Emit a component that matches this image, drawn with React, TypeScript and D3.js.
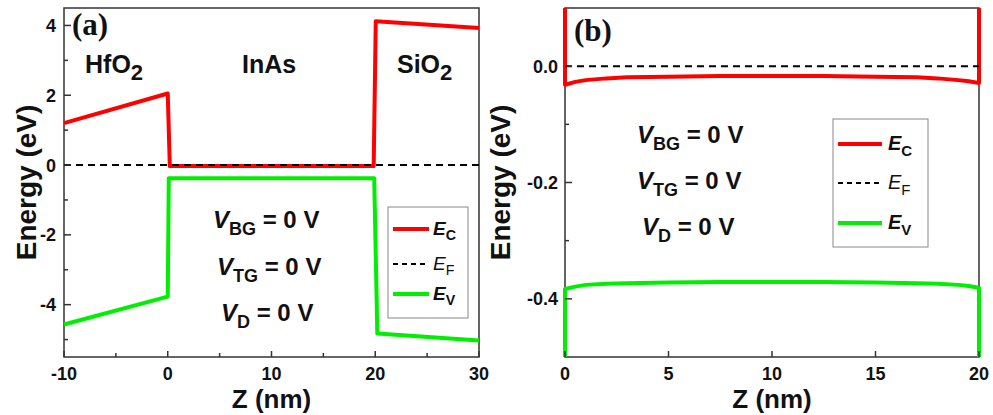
import * as d3 from "d3";

// panel (a): band edges across the HfO2 / InAs / SiO2 stack
const aZ = [-10, 0, 0.2, 19.85, 20.05, 30];
const aEc = [1.2, 2.05, -0.03, -0.03, 4.12, 3.93];
const aZv = [-10, 0, 0.1, 19.9, 20.2, 30];
const aEv = [-4.57, -3.77, -0.38, -0.38, -4.83, -5.03];
const aEf = [0, 0];
const aEfZ = [-10, 30];

// panel (b): zoom into the InAs channel
const bZ = [0, 0, 0.5, 1, 2, 3, 5, 7.5, 10, 12.5, 15, 17, 18, 19, 19.5, 20, 20];
const bEc = [0.15, -0.032, -0.027, -0.024, -0.021, -0.019, -0.018, -0.017, -0.017, -0.017, -0.018, -0.019, -0.021, -0.024, -0.026, -0.029, 0.15];
const bEv = [-0.55, -0.383, -0.379, -0.376, -0.374, -0.373, -0.372, -0.371, -0.371, -0.371, -0.372, -0.373, -0.374, -0.376, -0.378, -0.381, -0.55];
const bEfZ = [0, 20];
const bEf = [0, 0];

const aXTicks = [-10, 0, 10, 20, 30];
const aXMinor = [-5, 5, 15, 25];
const aYTicks = [-4, -2, 0, 2, 4];
const aYMinor = [-5, -3, -1, 1, 3];
const bXTicks = [0, 5, 10, 15, 20];
const bXMinor: number[] = [];
const bYTicks = [-0.4, -0.2, 0.0];
const bYMinor = [-0.3, -0.1];

const FONT = "'Liberation Sans', Arial, Helvetica, sans-serif";
const RED = "#ff0000";
const GREEN = "#00ee00";
const FRAME = "#333";

type Series = { z: number[]; e: number[]; color: string; dashed?: boolean };

interface PanelProps {
  id: string;
  left: number;
  right: number;
  top: number;
  bottom: number;
  xDomain: [number, number];
  yDomain: [number, number];
  xTicks: number[];
  xMinor: number[];
  yTicks: number[];
  yMinor: number[];
  yFormat: (v: number) => string;
  yLabelRight: number;
  yTitleX: number;
  series: Series[];
  tag: string;
  tagX: number;
  tagY: number;
  legend: { x: number; y: number; w: number; h: number; lineX0: number; lineX1: number; rows: number[]; textX: number; fs: number };
  volt: { x: number[]; y: number[]; fs: number };
}

function Sub({ main, sub, italic, fs, bold = true }: { main: string; sub: string; italic?: boolean; fs: number; bold?: boolean }) {
  return (
    <>
      <tspan fontStyle={italic ? "italic" : "normal"} fontWeight={bold ? "bold" : "normal"}>{main}</tspan>
      <tspan fontSize={fs * 0.75} dy={fs * 0.3} fontWeight={bold ? "bold" : "normal"}>{sub}</tspan>
    </>
  );
}

function Panel(p: PanelProps) {
  const x = d3.scaleLinear().domain(p.xDomain).range([p.left, p.right]);
  const y = d3.scaleLinear().domain(p.yDomain).range([p.bottom, p.top]);
  const line = d3
    .line<[number, number]>()
    .x((d) => x(d[0]))
    .y((d) => y(d[1]));

  const volts: [string, string, number][] = [
    ["V", "BG", 0],
    ["V", "TG", 1],
    ["V", "D", 2],
  ];
  const fs = p.volt.fs;
  const lg = p.legend;

  return (
    <g>
      <defs>
        <clipPath id={`clip-${p.id}`}>
          <rect x={p.left - 3} y={p.top} width={p.right - p.left + 6} height={p.bottom - p.top} />
        </clipPath>
      </defs>

      {/* frame */}
      <rect x={p.left} y={p.top} width={p.right - p.left} height={p.bottom - p.top} fill="none" stroke={FRAME} strokeWidth={1.5} />

      <g clipPath={`url(#clip-${p.id})`}>
        {p.series.map((s, i) => (
          <path
            key={i}
            d={line(s.z.map((z, j) => [z, s.e[j]] as [number, number])) || ""}
            fill="none"
            stroke={s.color}
            strokeWidth={s.dashed ? 2 : 4}
            strokeDasharray={s.dashed ? "7,5" : undefined}
            strokeLinejoin="round"
          />
        ))}
      </g>

      {/* ticks (inward) */}
      {p.xTicks.map((t) => (
        <g key={`xt${t}`}>
          <line x1={x(t)} x2={x(t)} y1={p.bottom} y2={p.bottom - 6} stroke={FRAME} strokeWidth={1.5} />
          <text x={x(t)} y={p.bottom + 23} textAnchor="middle" fontFamily={FONT} fontWeight="bold" fontSize={18} fill="#111">
            {t}
          </text>
        </g>
      ))}
      {p.xMinor.map((t) => (
        <line key={`xm${t}`} x1={x(t)} x2={x(t)} y1={p.bottom} y2={p.bottom - 4} stroke={FRAME} strokeWidth={1.5} />
      ))}
      {p.yTicks.map((t) => (
        <g key={`yt${t}`}>
          <line x1={p.left} x2={p.left + 7} y1={y(t)} y2={y(t)} stroke={FRAME} strokeWidth={1.5} />
          <text x={p.yLabelRight} y={y(t) + 6.5} textAnchor="end" fontFamily={FONT} fontWeight="bold" fontSize={18} fill="#111">
            {p.yFormat(t)}
          </text>
        </g>
      ))}
      {p.yMinor.map((t) => (
        <line key={`ym${t}`} x1={p.left} x2={p.left + 4} y1={y(t)} y2={y(t)} stroke={FRAME} strokeWidth={1.5} />
      ))}

      {/* axis titles */}
      <text
        transform={`translate(${p.yTitleX},${(p.top + p.bottom) / 2}) rotate(-90)`}
        textAnchor="middle"
        fontFamily={FONT}
        fontWeight="bold"
        fontSize={28}
        fill="#111"
      >
        Energy (eV)
      </text>
      <text x={(p.left + p.right) / 2} y={408} textAnchor="middle" fontFamily={FONT} fontWeight="bold" fontSize={26} fill="#111">
        Z (nm)
      </text>

      {/* panel tag */}
      <text x={p.tagX} y={p.tagY} fontFamily="'Liberation Serif', 'Times New Roman', serif" fontWeight="bold" fontSize={31} fill="#111">
        {p.tag}
      </text>

      {/* bias annotations */}
      {volts.map(([m, s, i]) => (
        <text key={s} x={p.volt.x[i]} y={p.volt.y[i]} fontFamily={FONT} fontWeight="bold" fontSize={fs} fill="#111">
          <Sub main={m} sub={s} italic fs={fs} />
          <tspan dy={-fs * 0.3}>{" = 0 V"}</tspan>
        </text>
      ))}

      {/* legend */}
      <rect x={lg.x} y={lg.y} width={lg.w} height={lg.h} fill="white" stroke="#888" strokeWidth={1} />
      {p.series.map((s, i) => {
        const ry = lg.rows[i];
        const label = ["C", "F", "V"][i];
        return (
          <g key={`lg${i}`}>
            <line
              x1={lg.lineX0}
              x2={lg.lineX1}
              y1={ry}
              y2={ry}
              stroke={s.color}
              strokeWidth={s.dashed ? 2 : 4}
              strokeDasharray={s.dashed ? "5,4" : undefined}
            />
            <text x={lg.textX} y={ry + lg.fs * 0.3} fontFamily={FONT} fontSize={lg.fs} fill="#111">
              <Sub main="E" sub={label} italic fs={lg.fs} bold={!s.dashed} />
            </text>
          </g>
        );
      })}
    </g>
  );
}

export default function App() {
  const seriesA: Series[] = [
    { z: aZ, e: aEc, color: RED },
    { z: aEfZ, e: aEf, color: "#000", dashed: true },
    { z: aZv, e: aEv, color: GREEN },
  ];
  const seriesB: Series[] = [
    { z: bZ, e: bEc, color: RED },
    { z: bEfZ, e: bEf, color: "#000", dashed: true },
    { z: bZ, e: bEv, color: GREEN },
  ];
  const fa = (v: number) => d3.format("d")(v).replace("−", "-");
  const fb = (v: number) => d3.format(".1f")(v).replace("−", "-");

  return (
    <svg width={993} height={415} style={{ position: "absolute", left: 0, top: 0, background: "white" }}>
      <rect width={993} height={415} fill="white" />
      <Panel
        id="a"
        left={64}
        right={479}
        top={8}
        bottom={357}
        xDomain={[-10, 30]}
        yDomain={[-5.5, 4.5]}
        xTicks={aXTicks}
        xMinor={aXMinor}
        yTicks={aYTicks}
        yMinor={aYMinor}
        yFormat={fa}
        yLabelRight={56}
        yTitleX={36}
        series={seriesA}
        tag="(a)"
        tagX={72}
        tagY={35}
        legend={{ x: 388, y: 207, w: 80, h: 111, lineX0: 393, lineX1: 429, rows: [229, 264, 294], textX: 433, fs: 19 }}
        volt={{ x: [213, 217, 221], y: [228, 275, 321], fs: 24 }}
      />
      <Panel
        id="b"
        left={565}
        right={979}
        top={8}
        bottom={357}
        xDomain={[0, 20]}
        yDomain={[-0.5, 0.1]}
        xTicks={bXTicks}
        xMinor={bXMinor}
        yTicks={bYTicks}
        yMinor={bYMinor}
        yFormat={fb}
        yLabelRight={558}
        yTitleX={510}
        series={seriesB}
        tag="(b)"
        tagX={574}
        tagY={41}
        legend={{ x: 833, y: 119, w: 95, h: 128, lineX0: 838, lineX1: 882, rows: [144, 183, 223], textX: 888, fs: 20 }}
        volt={{ x: [637, 637, 642], y: [143, 189, 235], fs: 24 }}
      />
      {/* layer labels in panel (a) */}
      <text x={85} y={73} fontFamily={FONT} fontWeight="bold" fontSize={25} fill="#111">
        HfO<tspan dy={7} fontSize={22}>2</tspan>
      </text>
      <text x={242} y={73} fontFamily={FONT} fontWeight="bold" fontSize={25} fill="#111">
        InAs
      </text>
      <text x={397} y={73} fontFamily={FONT} fontWeight="bold" fontSize={25} fill="#111">
        SiO<tspan dy={7} fontSize={22}>2</tspan>
      </text>
    </svg>
  );
}
